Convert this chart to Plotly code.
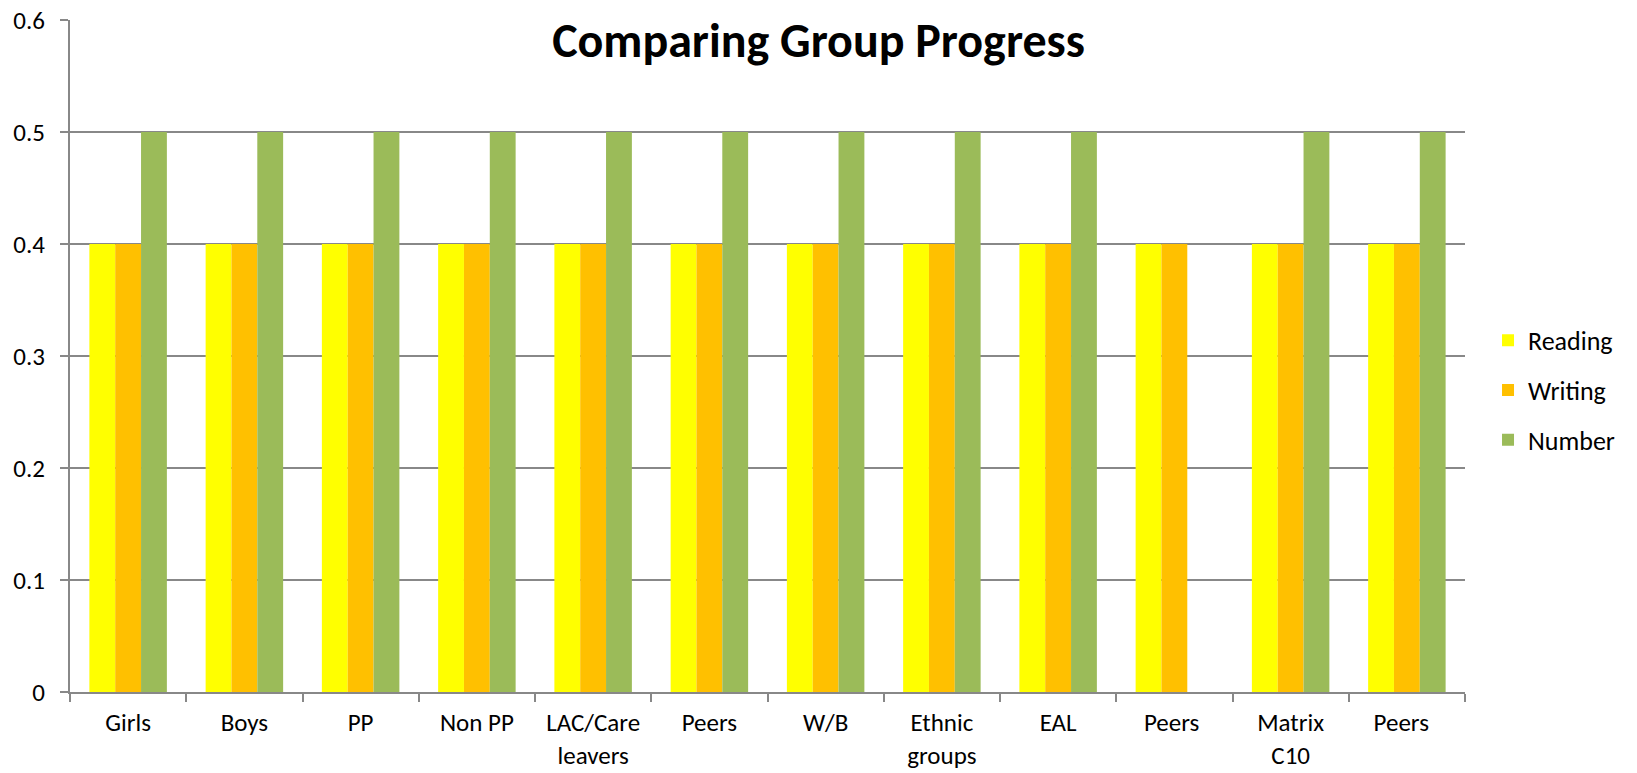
import plotly.graph_objects as go

categories = ["Girls", "Boys", "PP", "Non PP", "LAC/Care<br>leavers", "Peers", "W/B",
              "Ethnic<br>groups", "EAL", "Peers ", "Matrix<br>C10", "Peers  "]
reading = [0.4] * 12
writing = [0.4] * 12
number = [0.5, 0.5, 0.5, 0.5, 0.5, 0.5, 0.5, 0.5, 0.5, 0, 0.5, 0.5]
y_ticks = [0, 0.1, 0.2, 0.3, 0.4, 0.5, 0.6]

FONT = "Carlito, Lato, sans-serif"
W, H = 1637, 773

fig = go.Figure()
fig.add_bar(name="Reading", x=categories, y=reading, legendgroup="r",
            marker=dict(color="#FFFF00", line=dict(width=0)))
fig.add_bar(name="Writing", x=categories, y=writing, legendgroup="w",
            marker=dict(color="#FFC000", line=dict(width=0)))
fig.add_bar(name="Number", x=categories, y=number, legendgroup="n",
            marker=dict(color="#9BBB59", line=dict(width=0)))

fig.update_layout(
    width=W, height=H,
    barmode="group", bargap=1/3, bargroupgap=0,
    plot_bgcolor="white", paper_bgcolor="white",
    margin=dict(l=70, r=172, t=20, b=81),
    font=dict(family=FONT, size=25, color="black"),
    title=dict(text="<b>Comparing Group Progress</b>", x=0.5, xref="container",
               xanchor="center",
               y=1 - 40 / H, yref="container", yanchor="middle",
               font=dict(family=FONT, size=48, color="black")),
    legend=dict(x=1.0165, y=0.449, xanchor="left", yanchor="middle",
                font=dict(family=FONT, size=26), itemwidth=30, tracegroupgap=13,
                bgcolor="rgba(0,0,0,0)"),
    showlegend=True,
)
fig.update_xaxes(showline=True, linecolor="#888888", linewidth=2, ticks="outside",
                 tickson="boundaries", ticklen=8, tickwidth=2, tickcolor="#888888",
                 showgrid=False, tickfont=dict(size=25), automargin=False,
                 ticklabelstandoff=7, ticklabeloverflow="allow")
fig.update_yaxes(range=[0, 0.6001], tickvals=y_ticks, ticktext=[f"{v:g}" for v in y_ticks],
                 showline=True, linecolor="#888888", linewidth=2,
                 ticks="outside", ticklen=8, tickwidth=2, tickcolor="#888888",
                 showgrid=True, gridcolor="#888888", gridwidth=2, zeroline=False,
                 tickfont=dict(size=25), automargin=False, ticklabelstandoff=10,
                 ticklabeloverflow="allow")

fig.write_html("out.html", config={"displayModeBar": False},
               post_script="document.body.style.margin='0';document.body.style.overflow='hidden';")
